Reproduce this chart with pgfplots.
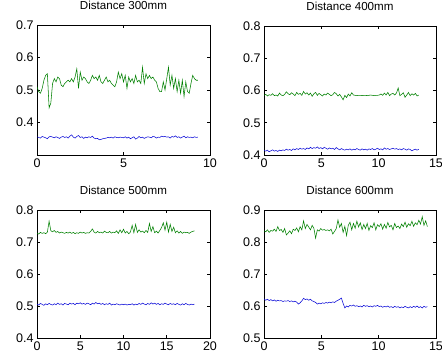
\documentclass[border=0pt]{standalone}
\usepackage{fontspec}
\setmainfont{Liberation Sans}
\usepackage{pgfplots}
\usepackage{pgfplotstable}
\pgfplotsset{compat=1.18}
\definecolor{mgreen}{RGB}{0,128,0}
\definecolor{mblue}{RGB}{10,10,215}

% Distance 300mm, step 0.1
\pgfplotstableread[row sep=\\]{
y\\
0.51\\ 0.495\\ 0.49\\ 0.505\\ 0.53\\ 0.545\\ 0.55\\ 0.445\\ 0.46\\ 0.52\\
0.535\\ 0.525\\ 0.54\\ 0.535\\ 0.515\\ 0.51\\ 0.52\\ 0.525\\ 0.53\\ 0.525\\
0.535\\ 0.525\\ 0.54\\ 0.565\\ 0.505\\ 0.555\\ 0.53\\ 0.54\\ 0.535\\ 0.525\\
0.52\\ 0.53\\ 0.545\\ 0.535\\ 0.54\\ 0.53\\ 0.545\\ 0.525\\ 0.52\\ 0.53\\
0.54\\ 0.525\\ 0.53\\ 0.52\\ 0.515\\ 0.51\\ 0.525\\ 0.555\\ 0.535\\ 0.55\\
0.525\\ 0.545\\ 0.505\\ 0.54\\ 0.525\\ 0.535\\ 0.52\\ 0.545\\ 0.525\\ 0.53\\
0.52\\ 0.57\\ 0.52\\ 0.55\\ 0.535\\ 0.545\\ 0.535\\ 0.54\\ 0.53\\ 0.525\\
0.505\\ 0.495\\ 0.495\\ 0.525\\ 0.5\\ 0.535\\ 0.57\\ 0.515\\ 0.545\\ 0.505\\
0.535\\ 0.495\\ 0.53\\ 0.49\\ 0.53\\ 0.48\\ 0.525\\ 0.495\\ 0.49\\ 0.52\\
0.545\\ 0.535\\ 0.53\\ 0.53\\
}\gA
\pgfplotstableread[row sep=\\]{
y\\
0.356\\ 0.354\\ 0.352\\ 0.357\\ 0.355\\ 0.353\\ 0.350\\ 0.356\\ 0.357\\ 0.355\\
0.353\\ 0.356\\ 0.354\\ 0.351\\ 0.355\\ 0.357\\ 0.354\\ 0.356\\ 0.352\\ 0.358\\
0.362\\ 0.355\\ 0.352\\ 0.357\\ 0.360\\ 0.354\\ 0.356\\ 0.351\\ 0.355\\ 0.353\\
0.356\\ 0.354\\ 0.358\\ 0.352\\ 0.350\\ 0.351\\ 0.347\\ 0.348\\ 0.350\\ 0.351\\
0.352\\ 0.354\\ 0.353\\ 0.355\\ 0.352\\ 0.356\\ 0.354\\ 0.353\\ 0.355\\ 0.354\\
0.353\\ 0.356\\ 0.352\\ 0.355\\ 0.350\\ 0.353\\ 0.356\\ 0.349\\ 0.352\\ 0.357\\
0.353\\ 0.355\\ 0.351\\ 0.354\\ 0.356\\ 0.355\\ 0.353\\ 0.357\\ 0.356\\ 0.352\\
0.355\\ 0.354\\ 0.358\\ 0.356\\ 0.357\\ 0.355\\ 0.356\\ 0.352\\ 0.357\\ 0.355\\
0.359\\ 0.354\\ 0.356\\ 0.352\\ 0.355\\ 0.358\\ 0.353\\ 0.356\\ 0.354\\ 0.355\\
0.353\\ 0.356\\ 0.354\\ 0.355\\
}\bA
% Distance 400mm, step 0.15
\pgfplotstableread[row sep=\\]{
y\\
0.585\\ 0.588\\ 0.583\\ 0.587\\ 0.585\\ 0.590\\ 0.584\\ 0.586\\ 0.583\\ 0.592\\
0.586\\ 0.584\\ 0.588\\ 0.596\\ 0.590\\ 0.587\\ 0.593\\ 0.589\\ 0.584\\ 0.594\\
0.588\\ 0.591\\ 0.585\\ 0.597\\ 0.589\\ 0.593\\ 0.586\\ 0.592\\ 0.582\\ 0.590\\
0.594\\ 0.585\\ 0.591\\ 0.587\\ 0.583\\ 0.589\\ 0.586\\ 0.592\\ 0.588\\ 0.584\\
0.587\\ 0.594\\ 0.590\\ 0.583\\ 0.588\\ 0.580\\ 0.571\\ 0.585\\ 0.578\\ 0.589\\
0.583\\ 0.593\\ 0.586\\ 0.585\\ 0.584\\ 0.585\\ 0.585\\ 0.584\\ 0.585\\ 0.585\\
0.584\\ 0.585\\ 0.586\\ 0.585\\ 0.584\\ 0.585\\ 0.585\\ 0.586\\ 0.589\\ 0.585\\
0.592\\ 0.586\\ 0.594\\ 0.584\\ 0.589\\ 0.591\\ 0.586\\ 0.592\\ 0.608\\ 0.584\\
0.588\\ 0.593\\ 0.579\\ 0.586\\ 0.594\\ 0.584\\ 0.590\\ 0.586\\ 0.591\\ 0.583\\
0.586\\
}\gB
\pgfplotstableread[row sep=\\]{
y\\
0.414\\ 0.412\\ 0.415\\ 0.410\\ 0.413\\ 0.416\\ 0.412\\ 0.414\\ 0.411\\ 0.415\\
0.413\\ 0.416\\ 0.414\\ 0.418\\ 0.415\\ 0.417\\ 0.414\\ 0.419\\ 0.416\\ 0.420\\
0.417\\ 0.421\\ 0.418\\ 0.420\\ 0.417\\ 0.422\\ 0.419\\ 0.424\\ 0.420\\ 0.423\\
0.421\\ 0.425\\ 0.420\\ 0.423\\ 0.419\\ 0.424\\ 0.421\\ 0.418\\ 0.422\\ 0.419\\
0.421\\ 0.417\\ 0.423\\ 0.419\\ 0.416\\ 0.420\\ 0.417\\ 0.415\\ 0.418\\ 0.416\\
0.419\\ 0.415\\ 0.418\\ 0.416\\ 0.420\\ 0.417\\ 0.415\\ 0.419\\ 0.416\\ 0.418\\
0.415\\ 0.419\\ 0.417\\ 0.420\\ 0.416\\ 0.418\\ 0.421\\ 0.417\\ 0.419\\ 0.416\\
0.422\\ 0.418\\ 0.420\\ 0.417\\ 0.419\\ 0.421\\ 0.418\\ 0.420\\ 0.417\\ 0.419\\
0.416\\ 0.420\\ 0.418\\ 0.415\\ 0.419\\ 0.417\\ 0.413\\ 0.416\\ 0.418\\ 0.415\\
0.418\\
}\bB
% Distance 500mm, step 0.2
\pgfplotstableread[row sep=\\]{
y\\
0.728\\ 0.725\\ 0.730\\ 0.727\\ 0.729\\ 0.726\\ 0.731\\ 0.765\\ 0.735\\ 0.732\\
0.736\\ 0.730\\ 0.733\\ 0.728\\ 0.731\\ 0.729\\ 0.727\\ 0.730\\ 0.728\\ 0.731\\
0.727\\ 0.730\\ 0.726\\ 0.729\\ 0.727\\ 0.731\\ 0.728\\ 0.730\\ 0.727\\ 0.729\\
0.728\\ 0.733\\ 0.741\\ 0.731\\ 0.728\\ 0.733\\ 0.729\\ 0.731\\ 0.728\\ 0.734\\
0.730\\ 0.729\\ 0.733\\ 0.728\\ 0.731\\ 0.729\\ 0.735\\ 0.727\\ 0.738\\ 0.729\\
0.740\\ 0.728\\ 0.733\\ 0.726\\ 0.731\\ 0.752\\ 0.729\\ 0.755\\ 0.730\\ 0.738\\
0.731\\ 0.734\\ 0.729\\ 0.736\\ 0.730\\ 0.758\\ 0.733\\ 0.748\\ 0.729\\ 0.734\\
0.728\\ 0.736\\ 0.745\\ 0.760\\ 0.737\\ 0.762\\ 0.731\\ 0.755\\ 0.733\\ 0.746\\
0.729\\ 0.735\\ 0.728\\ 0.733\\ 0.727\\ 0.731\\ 0.729\\ 0.730\\ 0.727\\ 0.731\\
0.733\\ 0.735\\
}\gC
\pgfplotstableread[row sep=\\]{
y\\
0.506\\ 0.503\\ 0.508\\ 0.505\\ 0.502\\ 0.507\\ 0.504\\ 0.508\\ 0.505\\ 0.503\\
0.507\\ 0.504\\ 0.509\\ 0.505\\ 0.507\\ 0.503\\ 0.508\\ 0.506\\ 0.504\\ 0.509\\
0.506\\ 0.508\\ 0.504\\ 0.509\\ 0.507\\ 0.510\\ 0.506\\ 0.508\\ 0.505\\ 0.509\\
0.507\\ 0.504\\ 0.509\\ 0.506\\ 0.511\\ 0.507\\ 0.509\\ 0.505\\ 0.508\\ 0.504\\
0.507\\ 0.505\\ 0.509\\ 0.503\\ 0.506\\ 0.504\\ 0.507\\ 0.505\\ 0.503\\ 0.506\\
0.504\\ 0.506\\ 0.503\\ 0.505\\ 0.504\\ 0.507\\ 0.503\\ 0.506\\ 0.504\\ 0.508\\
0.505\\ 0.509\\ 0.506\\ 0.504\\ 0.508\\ 0.505\\ 0.510\\ 0.506\\ 0.509\\ 0.505\\
0.508\\ 0.504\\ 0.507\\ 0.505\\ 0.509\\ 0.506\\ 0.504\\ 0.508\\ 0.505\\ 0.507\\
0.504\\ 0.508\\ 0.505\\ 0.503\\ 0.507\\ 0.504\\ 0.508\\ 0.505\\ 0.503\\ 0.506\\
0.504\\ 0.506\\
}\bC
% Distance 600mm, step 0.15
\pgfplotstableread[row sep=\\]{
y\\
0.835\\ 0.832\\ 0.838\\ 0.830\\ 0.836\\ 0.834\\ 0.840\\ 0.833\\ 0.848\\ 0.836\\
0.839\\ 0.830\\ 0.842\\ 0.822\\ 0.828\\ 0.835\\ 0.826\\ 0.840\\ 0.836\\ 0.844\\
0.832\\ 0.848\\ 0.838\\ 0.866\\ 0.842\\ 0.855\\ 0.847\\ 0.838\\ 0.852\\ 0.843\\
0.812\\ 0.838\\ 0.834\\ 0.842\\ 0.837\\ 0.839\\ 0.836\\ 0.838\\ 0.835\\ 0.840\\
0.825\\ 0.833\\ 0.842\\ 0.869\\ 0.846\\ 0.858\\ 0.830\\ 0.849\\ 0.820\\ 0.852\\
0.862\\ 0.838\\ 0.858\\ 0.843\\ 0.865\\ 0.847\\ 0.860\\ 0.839\\ 0.855\\ 0.842\\
0.858\\ 0.836\\ 0.851\\ 0.845\\ 0.860\\ 0.838\\ 0.854\\ 0.848\\ 0.857\\ 0.840\\
0.855\\ 0.843\\ 0.861\\ 0.847\\ 0.852\\ 0.838\\ 0.858\\ 0.845\\ 0.850\\ 0.842\\
0.856\\ 0.848\\ 0.862\\ 0.846\\ 0.857\\ 0.851\\ 0.865\\ 0.849\\ 0.860\\ 0.854\\
0.868\\ 0.856\\ 0.879\\ 0.852\\ 0.866\\ 0.848\\
}\gD
\pgfplotstableread[row sep=\\]{
y\\
0.622\\ 0.618\\ 0.621\\ 0.617\\ 0.620\\ 0.616\\ 0.619\\ 0.615\\ 0.618\\ 0.616\\
0.617\\ 0.614\\ 0.616\\ 0.615\\ 0.617\\ 0.614\\ 0.616\\ 0.613\\ 0.615\\ 0.612\\
0.606\\ 0.610\\ 0.616\\ 0.624\\ 0.620\\ 0.622\\ 0.618\\ 0.621\\ 0.616\\ 0.614\\
0.611\\ 0.606\\ 0.609\\ 0.607\\ 0.610\\ 0.608\\ 0.611\\ 0.609\\ 0.612\\ 0.610\\
0.613\\ 0.611\\ 0.615\\ 0.618\\ 0.621\\ 0.625\\ 0.608\\ 0.594\\ 0.600\\ 0.597\\
0.602\\ 0.600\\ 0.603\\ 0.599\\ 0.601\\ 0.598\\ 0.600\\ 0.597\\ 0.602\\ 0.599\\
0.601\\ 0.598\\ 0.600\\ 0.597\\ 0.601\\ 0.599\\ 0.602\\ 0.598\\ 0.600\\ 0.596\\
0.599\\ 0.597\\ 0.600\\ 0.596\\ 0.598\\ 0.595\\ 0.599\\ 0.596\\ 0.598\\ 0.594\\
0.597\\ 0.595\\ 0.599\\ 0.596\\ 0.594\\ 0.598\\ 0.595\\ 0.599\\ 0.596\\ 0.600\\
0.595\\ 0.598\\ 0.594\\ 0.599\\ 0.596\\ 0.598\\
}\bD

\pgfplotsset{
  mstyle/.style={
    scale only axis, anchor=south west,
    axis line style={line width=0.6pt},
    tick style={black, line width=0.5pt},
    major tick length=3pt, tick align=inside, tick pos=both,
    /pgf/number format/assume math mode=true,
    tick label style={font=\fontsize{12.5}{14}\selectfont},
    title style={at={(0.5,1)}, anchor=base, yshift=9.5pt, font=\fontsize{11.6}{13}\selectfont, inner sep=0pt},
    every axis plot/.append style={line width=0.55pt},
  },
}

\begin{document}
\begin{tikzpicture}[x=1pt,y=1pt]
\path[use as bounding box] (0,0) rectangle (442,356);
\begin{axis}[mstyle, at={(37pt,201pt)}, width=173pt, height=130pt,
  xmin=0, xmax=10, ymin=0.3, ymax=0.7, xtick={0,5,10}, ytick={0.4,0.5,0.6,0.7},
  title={Distance 300mm}]
\addplot[mblue] table[x expr=\coordindex*0.1, y=y] {\bA};
\addplot[mgreen] table[x expr=\coordindex*0.1, y=y] {\gA};
\end{axis}
\begin{axis}[mstyle, at={(264pt,201pt)}, width=172pt, height=129pt,
  xmin=0, xmax=15, ymin=0.4, ymax=0.8, xtick={0,5,10,15}, ytick={0.4,0.5,0.6,0.7,0.8},
  title={Distance 400mm}]
\addplot[mblue] table[x expr=\coordindex*0.15, y=y] {\bB};
\addplot[mgreen] table[x expr=\coordindex*0.15, y=y] {\gB};
\end{axis}
\begin{axis}[mstyle, at={(37pt,18pt)}, width=173pt, height=128pt,
  xmin=0, xmax=20, ymin=0.4, ymax=0.8, xtick={0,5,10,15,20}, ytick={0.4,0.5,0.6,0.7,0.8},
  title={Distance 500mm}]
\addplot[mblue] table[x expr=\coordindex*0.2, y=y] {\bC};
\addplot[mgreen] table[x expr=\coordindex*0.2, y=y] {\gC};
\end{axis}
\begin{axis}[mstyle, at={(264pt,18pt)}, width=172pt, height=128pt,
  xmin=0, xmax=15, ymin=0.5, ymax=0.9, xtick={0,5,10,15}, ytick={0.5,0.6,0.7,0.8,0.9},
  title={Distance 600mm}]
\addplot[mblue] table[x expr=\coordindex*0.15, y=y] {\bD};
\addplot[mgreen] table[x expr=\coordindex*0.15, y=y] {\gD};
\end{axis}
\end{tikzpicture}
\end{document}
